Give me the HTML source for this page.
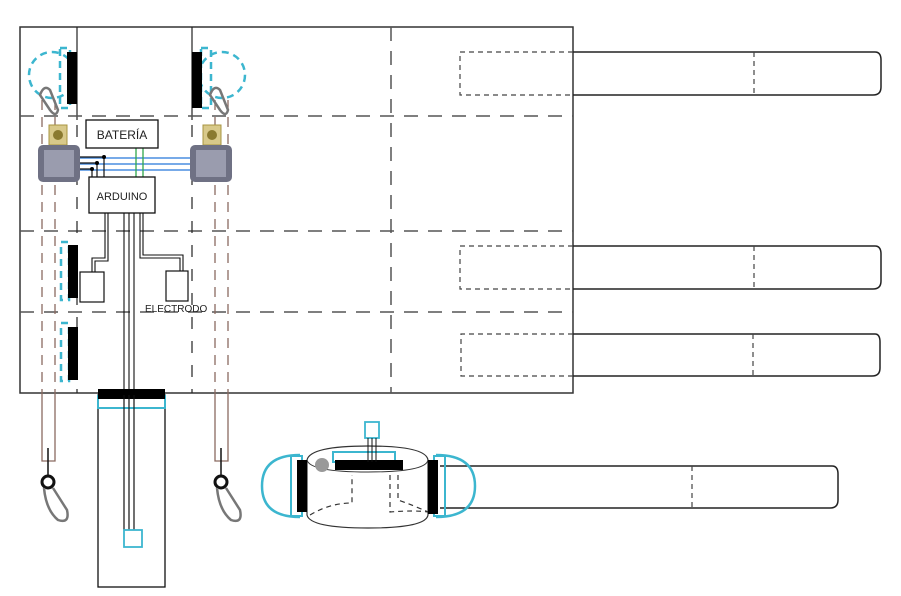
<!DOCTYPE html>
<html><head><meta charset="utf-8"><style>
html,body{margin:0;padding:0;background:#fff;}
svg{display:block;}
text{font-family:"Liberation Sans",sans-serif;}
</style></head><body>
<svg width="901" height="596" viewBox="0 0 901 596" xmlns="http://www.w3.org/2000/svg">
<rect x="20" y="27" width="553" height="366" fill="none" stroke="#333" stroke-width="1.5"/>
<line x1="77" y1="27" x2="77" y2="120" stroke="#222" stroke-width="1.2"/>
<line x1="192" y1="27" x2="192" y2="120" stroke="#222" stroke-width="1.2"/>
<g stroke="#555" stroke-width="1.5" stroke-dasharray="14,10" fill="none">
<line x1="20" y1="116" x2="573" y2="116"/>
<line x1="20" y1="231" x2="573" y2="231"/>
<line x1="20" y1="312" x2="573" y2="312"/>
<line x1="391" y1="27" x2="391" y2="393"/>
</g>
<g stroke="#222" stroke-width="1.2" stroke-dasharray="12,12" fill="none">
<line x1="77" y1="125" x2="77" y2="393"/>
<line x1="192" y1="125" x2="192" y2="393"/>
</g>
<g fill="none" stroke="#222" stroke-width="1.5">
<path d="M573 52 H875 Q881 52 881 60 V87 Q881 95 873 95 H573"/>
<path d="M573 246 H875 Q881 246 881 254 V281 Q881 289 873 289 H573"/>
<path d="M573 334 H875 Q880 334 880 342 V368 Q880 376 872 376 H573"/>
<path d="M440 466 H832 Q838 466 838 474 V500 Q838 508 830 508 H440"/>
</g>
<g fill="none" stroke="#444" stroke-width="1.2" stroke-dasharray="5,4">
<path d="M573 52 H460 V95 H573"/>
<path d="M573 246 H460 V289 H573"/>
<path d="M573 334 H461 V376 H573"/>
<line x1="754" y1="52" x2="754" y2="95"/>
<line x1="754" y1="246" x2="754" y2="289"/>
<line x1="753" y1="334" x2="753" y2="376"/>
<line x1="692" y1="466" x2="692" y2="508"/>
</g>
<g stroke="#8a6a60" stroke-width="1.3" stroke-dasharray="10,7" fill="none">
<line x1="42" y1="100" x2="42" y2="393"/>
<line x1="55" y1="100" x2="55" y2="393"/>
<line x1="215" y1="100" x2="215" y2="393"/>
<line x1="228" y1="100" x2="228" y2="393"/>
</g>
<g stroke="#8a6a60" stroke-width="1.3" fill="none">
<path d="M42 393 V461 H55 V393"/>
<path d="M215 393 V461 H228 V393"/>
</g>
<g fill="none" stroke="#3cb6cf" stroke-width="2.5" stroke-dasharray="7,5">
<circle cx="52" cy="75" r="23"/>
<circle cx="222" cy="75" r="23"/>
<rect x="60" y="48" width="10" height="60"/>
<rect x="201" y="48" width="10" height="60"/>
<rect x="61" y="242" width="8" height="58"/>
<rect x="61" y="323" width="8" height="58"/>
</g>
<g fill="#000">
<rect x="67" y="52" width="10" height="52"/>
<rect x="192" y="52" width="10" height="56"/>
<rect x="68" y="245" width="10" height="53"/>
<rect x="68" y="327" width="10" height="53"/>
</g>
<g fill="none" stroke="#777" stroke-width="2.5">
<path d="M40 95 Q44 84 50 90 L58 110 Q56 118 50 110 Z"/>
<path d="M210 95 Q214 84 220 90 L228 110 Q226 118 220 110 Z"/>
</g>
<g fill="#d8c98a" stroke="#a89540">
<rect x="49" y="125" width="18" height="20"/>
<rect x="203" y="125" width="18" height="20"/>
</g>
<circle cx="58" cy="135" r="5" fill="#8a7a30"/>
<circle cx="212" cy="135" r="5" fill="#8a7a30"/>
<rect x="38" y="145" width="42" height="37" rx="5" fill="#6f7184"/>
<rect x="190" y="145" width="42" height="37" rx="5" fill="#6f7184"/>
<rect x="44" y="150" width="30" height="27" fill="#9a9cae"/>
<rect x="196" y="150" width="30" height="27" fill="#9a9cae"/>
<g stroke="#4a8ee0" stroke-width="1.5">
<line x1="80" y1="158" x2="190" y2="158"/>
<line x1="80" y1="164" x2="190" y2="164"/>
<line x1="80" y1="170" x2="190" y2="170"/>
</g>
<g stroke="#2fa84a" stroke-width="1.3">
<line x1="136" y1="148" x2="136" y2="177"/>
<line x1="143" y1="148" x2="143" y2="177"/>
</g>
<g stroke="#111" stroke-width="1.2" fill="none">
<path d="M80 157 H104 V177"/>
<path d="M80 163 H97 V177"/>
<path d="M80 169 H92 V177"/>
</g>
<circle cx="104" cy="157" r="2" fill="#000"/>
<circle cx="97" cy="163" r="2" fill="#000"/>
<circle cx="92" cy="169" r="2" fill="#000"/>
<rect x="86" y="120" width="72" height="28" fill="#fff" stroke="#111" stroke-width="1.3"/>
<text x="122" y="139" font-size="12" text-anchor="middle" fill="#222">BATERÍA</text>
<rect x="89" y="177" width="66" height="36" fill="#fff" stroke="#111" stroke-width="1.3"/>
<text x="122" y="200" font-size="11" text-anchor="middle" fill="#222">ARDUINO</text>
<g stroke="#111" stroke-width="1.1" fill="none">
<path d="M105 213 V258 H92 V272"/>
<path d="M108 213 V261 H95 V272"/>
<path d="M140 213 V258 H180 V272"/>
<path d="M143 213 V255 H183 V272"/>
<line x1="124" y1="213" x2="124" y2="530"/>
<line x1="129" y1="213" x2="129" y2="530"/>
<line x1="134" y1="213" x2="134" y2="530"/>
</g>
<rect x="80" y="272" width="24" height="30" fill="#fff" stroke="#111" stroke-width="1.2"/>
<rect x="166" y="271" width="22" height="30" fill="#fff" stroke="#111" stroke-width="1.2"/>
<text x="145" y="312" font-size="10" fill="#222">ELECTRODO</text>
<rect x="98" y="395" width="67" height="192" fill="none" stroke="#111" stroke-width="1.3"/>
<rect x="98" y="396" width="67" height="12" fill="none" stroke="#3cb6cf" stroke-width="2"/>
<rect x="98" y="389" width="67" height="10" fill="#000"/>
<g stroke="#111" stroke-width="1.1"><line x1="124" y1="395" x2="124" y2="530"/><line x1="129" y1="395" x2="129" y2="530"/><line x1="134" y1="395" x2="134" y2="530"/></g>
<rect x="124" y="530" width="18" height="17" fill="#fff" stroke="#3cb6cf" stroke-width="1.8"/>
<g>
<line x1="48" y1="448" x2="48" y2="476" stroke="#111" stroke-width="1.5"/>
<line x1="221" y1="448" x2="221" y2="476" stroke="#111" stroke-width="1.5"/>
<circle cx="48" cy="482" r="6" fill="none" stroke="#111" stroke-width="3"/>
<circle cx="221" cy="482" r="6" fill="none" stroke="#111" stroke-width="3"/>
<path d="M44 488 Q46 510 58 520 Q70 524 67 510 L53 488" fill="none" stroke="#777" stroke-width="2.5"/>
<path d="M217 488 Q219 510 231 520 Q243 524 240 510 L226 488" fill="none" stroke="#777" stroke-width="2.5"/>
</g>
<path d="M307 460 Q310 446 368 446 Q426 446 428 460 V515 Q426 528 368 528 Q310 528 307 515 Z" fill="#fff" stroke="#333" stroke-width="1.2"/>
<path d="M307 460 Q310 472 368 472 Q426 472 428 460" fill="none" stroke="#333" stroke-width="1"/>
<g fill="none" stroke="#333" stroke-width="1.2" stroke-dasharray="5,4">
<path d="M310 515 Q330 503 352 503 V475"/>
<path d="M390 475 V512 Q415 510 428 512"/>
<path d="M398 475 V500 Q415 506 428 512"/>
</g>
<rect x="365" y="422" width="14" height="16" fill="#fff" stroke="#3cb6cf" stroke-width="1.8"/>
<rect x="333" y="452" width="62" height="10" fill="none" stroke="#3cb6cf" stroke-width="2"/>
<rect x="335" y="460" width="68" height="10" fill="#000"/>
<g stroke="#111" stroke-width="1"><line x1="368" y1="438" x2="368" y2="462"/><line x1="372" y1="438" x2="372" y2="462"/><line x1="376" y1="438" x2="376" y2="462"/></g>
<circle cx="322" cy="465" r="7" fill="#999"/>
<path d="M300 455 Q262 455 262 486 Q262 517 300 517" fill="none" stroke="#3cb6cf" stroke-width="2.5"/>
<rect x="291" y="456" width="11" height="60" fill="none" stroke="#3cb6cf" stroke-width="2"/>
<rect x="297" y="460" width="10" height="52" fill="#000"/>
<path d="M436 455 Q475 455 475 486 Q475 517 436 517" fill="none" stroke="#3cb6cf" stroke-width="2.5"/>
<rect x="434" y="456" width="11" height="60" fill="none" stroke="#3cb6cf" stroke-width="2"/>
<rect x="428" y="460" width="10" height="54" fill="#000"/>
</svg>
</body></html>
